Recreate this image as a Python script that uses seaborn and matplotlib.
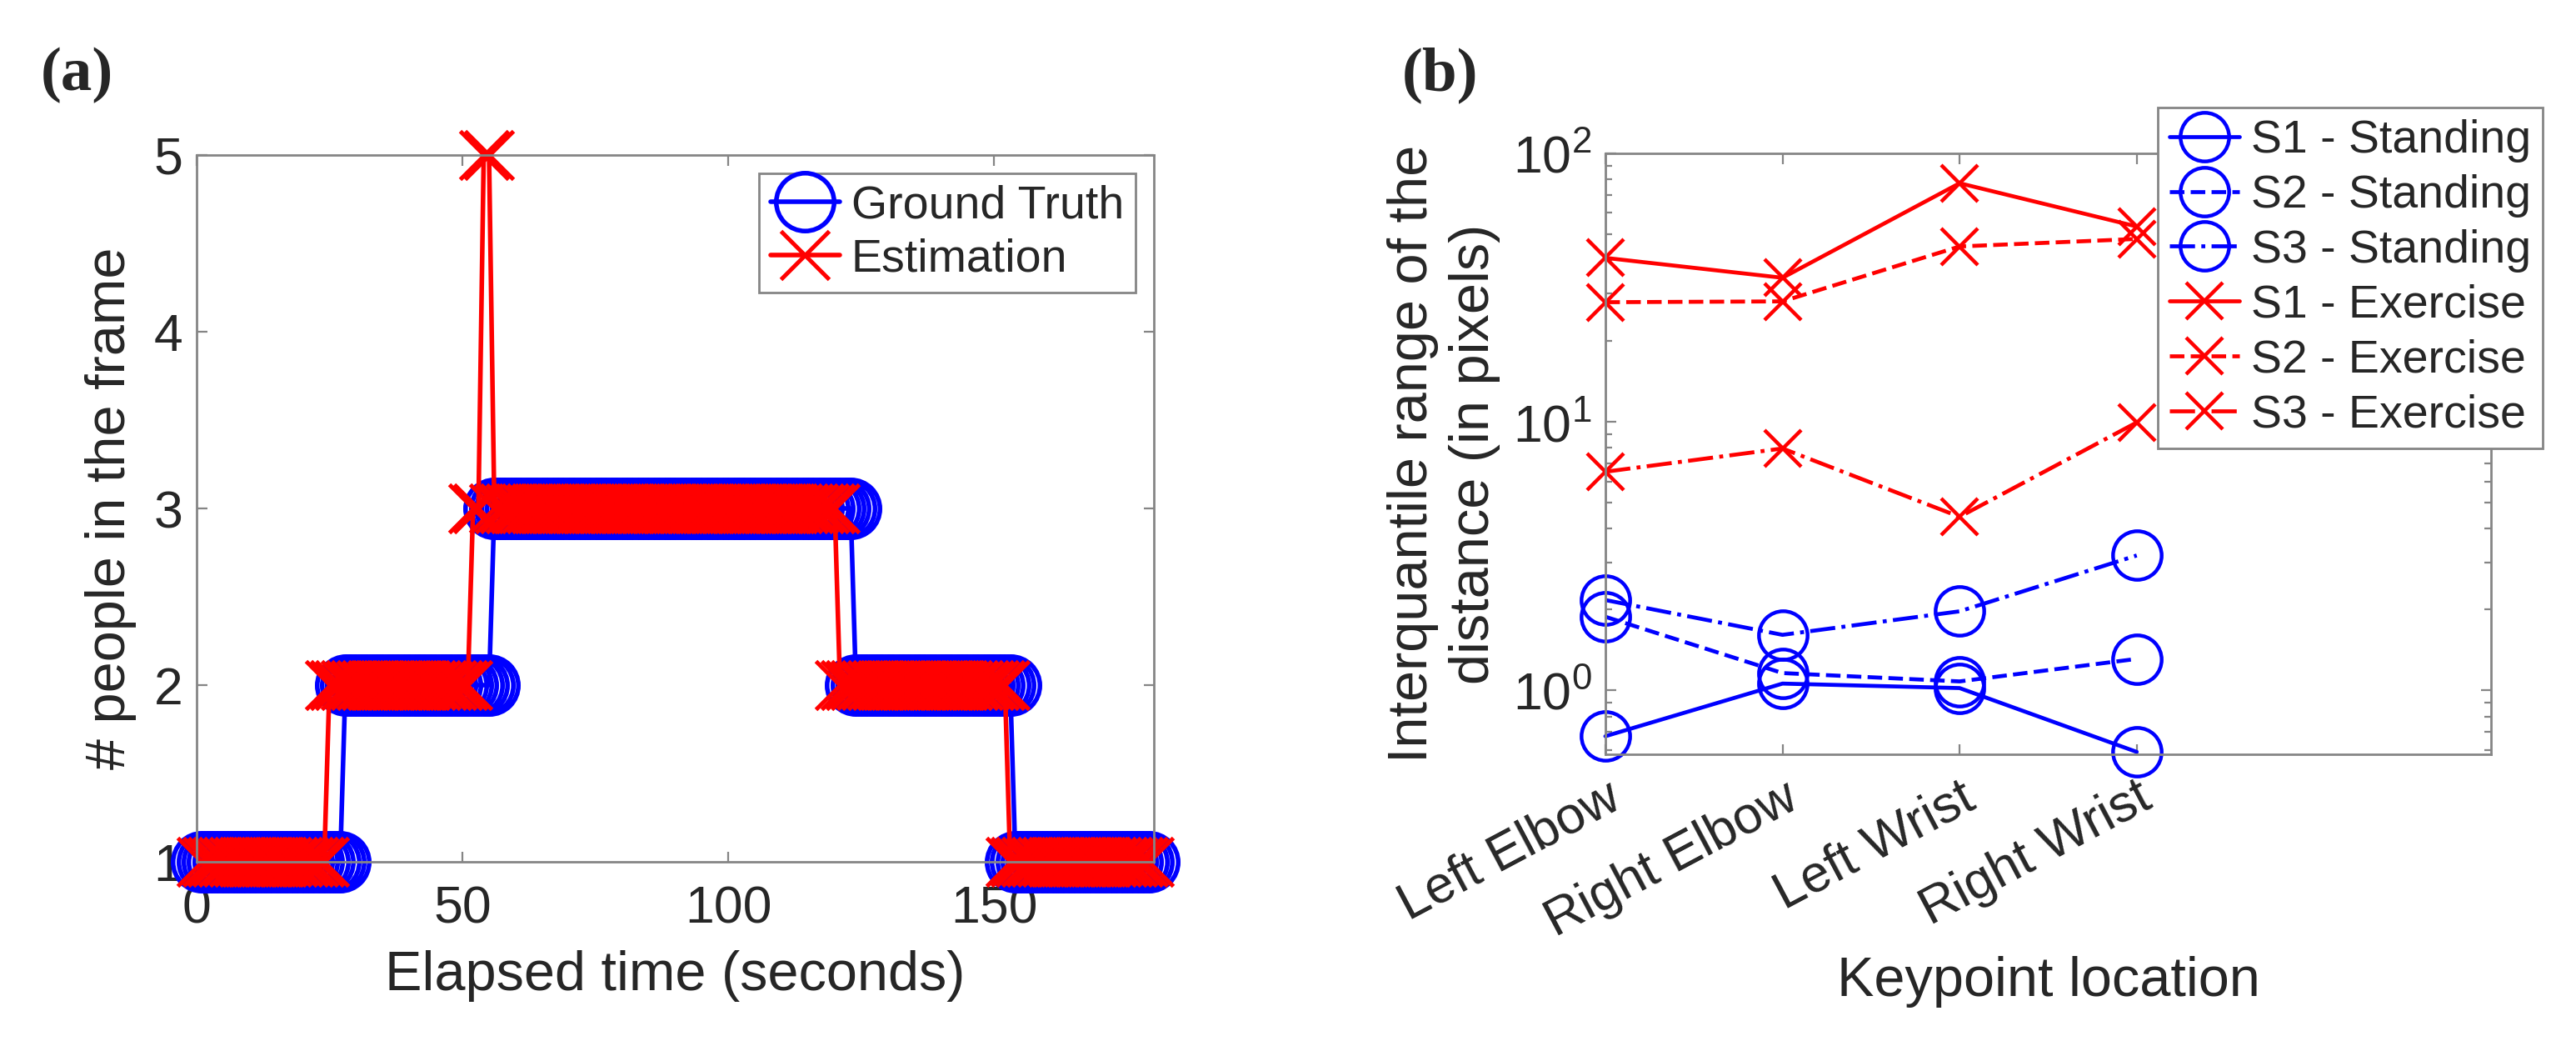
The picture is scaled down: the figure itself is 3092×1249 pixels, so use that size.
import matplotlib
matplotlib.use("Agg")
import matplotlib.pyplot as plt
import numpy as np
import seaborn as sns
from matplotlib.ticker import LogLocator, LogFormatterSciNotation, NullFormatter

# Panel (a): people count per second, stored as run-length segments
gt_levels = [1, 2, 3, 2, 1]
gt_counts = [27, 28, 68, 30, 26]
est_levels = [1, 2, 3, 5, 3, 2, 1]
est_counts = [24, 27, 2, 2, 65, 32, 27]
t_start = 1

# Panel (b): interquantile range per keypoint
keypoints = ['Left Elbow', 'Right Elbow', 'Left Wrist', 'Right Wrist']
s1_stand = [0.675, 1.06, 1.02, 0.59]
s2_stand = [1.88, 1.16, 1.08, 1.31]
s3_stand = [2.17, 1.61, 1.97, 3.18]
s1_ex = [40.8, 34.4, 77.4, 53.4]
s2_ex = [27.9, 28.1, 45.0, 48.0]
s3_ex = [6.52, 7.96, 4.43, 9.95]

sns.set_style("ticks")
plt.rcParams['font.family'] = ['Liberation Sans', 'DejaVu Sans']
plt.rcParams['mathtext.fontset'] = 'custom'
plt.rcParams['mathtext.rm'] = 'Liberation Sans'
plt.rcParams['mathtext.it'] = 'Liberation Sans'

spine_col = '#858585'
text_col = '#262626'
lab_size = 24
tick_size = 22.5
leg_size = 20

fig = plt.figure(figsize=(15.46, 6.245), dpi=200)
ax1 = fig.add_axes([0.0763, 0.1721, 0.3716, 0.679])
ax2 = fig.add_axes([0.6232, 0.2754, 0.3438, 0.5773])

# --- panel (a)
gt = np.repeat(gt_levels, gt_counts)
est = np.repeat(est_levels, est_counts)
t_gt = np.arange(t_start, t_start + len(gt))
t_est = np.arange(t_start, t_start + len(est))

sns.lineplot(x=t_gt, y=gt, ax=ax1, color='blue', marker='o', markersize=25,
             markerfacecolor='none', markeredgecolor='blue', markeredgewidth=2.0,
             linewidth=2.0, sort=False, estimator=None, errorbar=None,
             clip_on=False, label='Ground Truth')
sns.lineplot(x=t_est, y=est, ax=ax1, color='red', marker='x', markersize=21,
             markeredgecolor='red', markeredgewidth=1.8,
             linewidth=2.0, sort=False, estimator=None, errorbar=None,
             clip_on=False, label='Estimation')
ax1.set_xlim(0, 180)
ax1.set_ylim(1, 5)
ax1.set_xticks([0, 50, 100, 150])
ax1.set_yticks([1, 2, 3, 4, 5])
ax1.set_xlabel('Elapsed time (seconds)', fontsize=lab_size, color=text_col)
ax1.set_ylabel('# people in the frame', fontsize=lab_size, color=text_col)
ax1.xaxis.set_label_coords(0.5, -0.125)
ax1.yaxis.set_label_coords(-0.063, 0.5)
ax1.legend(loc='upper right', bbox_to_anchor=(0.981, 0.974), fontsize=leg_size,
           frameon=True, fancybox=False, edgecolor=spine_col, framealpha=1,
           handlelength=1.5, handletextpad=0.25, borderpad=0.25, labelspacing=0.2,
           borderaxespad=0)

# --- panel (b)
xpos = np.arange(1, len(keypoints) + 1)
series = [
    (s1_stand, 'S1 - Standing', 'blue', 'o', '-'),
    (s2_stand, 'S2 - Standing', 'blue', 'o', '--'),
    (s3_stand, 'S3 - Standing', 'blue', 'o', '-.'),
    (s1_ex, 'S1 - Exercise', 'red', 'x', '-'),
    (s2_ex, 'S2 - Exercise', 'red', 'x', '--'),
    (s3_ex, 'S3 - Exercise', 'red', 'x', '-.'),
]
for vals, lab, col, mk, ls in series:
    ms = 21 if mk == 'o' else 16
    sns.lineplot(x=xpos, y=vals, ax=ax2, color=col, marker=mk, markersize=ms,
                 markerfacecolor='none', markeredgecolor=col, markeredgewidth=1.6,
                 linewidth=1.7, linestyle=ls, sort=False, estimator=None,
                 errorbar=None, clip_on=False, label=lab)
ax2.set_yscale('log')
ax2.set_xlim(1, 6)
ax2.set_ylim(0.578, 100)
ax2.set_xticks(xpos)
ax2.set_xticklabels(keypoints, rotation=28, ha='right', rotation_mode='anchor')
ax2.yaxis.set_major_locator(LogLocator(base=10))
ax2.yaxis.set_major_formatter(LogFormatterSciNotation())
ax2.yaxis.set_minor_locator(LogLocator(base=10, subs=np.arange(2, 10)))
ax2.yaxis.set_minor_formatter(NullFormatter())
ax2.set_xlabel('Keypoint location', fontsize=lab_size, color=text_col)
ax2.set_ylabel('Interquantile range of the\ndistance (in pixels)', fontsize=lab_size,
               color=text_col, linespacing=1.25)
ax2.xaxis.set_label_coords(0.5, -0.335)
ax2.yaxis.set_label_coords(-0.118, 0.5)
ax2.legend(loc='upper right', bbox_to_anchor=(1.058, 1.076), fontsize=leg_size,
           frameon=True, fancybox=False, edgecolor=spine_col, framealpha=1,
           handlelength=1.5, handletextpad=0.25, borderpad=0.25, labelspacing=0.25,
           borderaxespad=0)

for ax in (ax1, ax2):
    for sp in ax.spines.values():
        sp.set_visible(True)
        sp.set_color(spine_col)
        sp.set_linewidth(1.0)
    ax.tick_params(which='both', direction='in', top=True, right=True,
                   color=spine_col, labelcolor=text_col, labelsize=tick_size, width=0.8)
    ax.tick_params(which='major', length=4.5)
    ax.tick_params(which='minor', length=2.8)
    ax.tick_params(axis='y', pad=6)
    ax.grid(False)
ax1.tick_params(axis='x', pad=10)
ax2.tick_params(axis='x', pad=8)

fig.text(0.0298, 0.928, '(a)', fontsize=27, fontweight='bold',
         family='Liberation Serif', ha='center', va='center')
fig.text(0.559, 0.928, '(b)', fontsize=27, fontweight='bold',
         family='Liberation Serif', ha='center', va='center')

fig.savefig('out.png', dpi=200, facecolor='white')
